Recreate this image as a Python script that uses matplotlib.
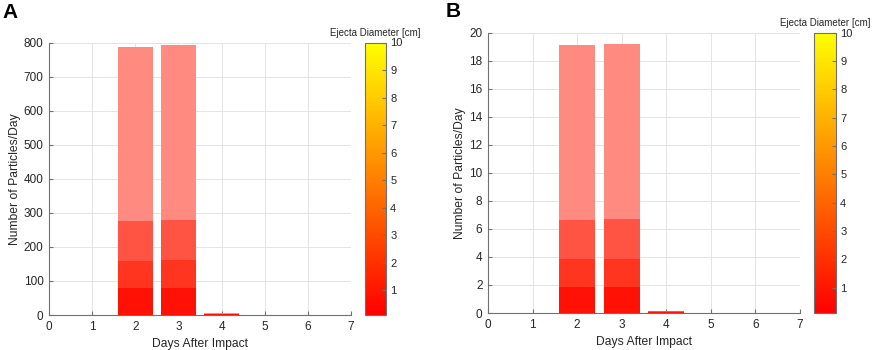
import matplotlib.pyplot as plt
import matplotlib as mpl
import numpy as np

plt.rcParams['font.family'] = ['Liberation Sans', 'DejaVu Sans']

days = [1, 2, 3, 4, 5, 6, 7]

# panel A - stacked counts per diameter bin (smallest first)
a_bin1 = [0, 78, 80, 2, 0, 0, 0]
a_bin2 = [0, 82, 82, 1, 0, 0, 0]
a_bin3 = [0, 116, 117, 1, 0, 0, 0]
a_bin4 = [0, 512, 514, 1, 0, 0, 0]

# panel B
b_bin1 = [0, 1.84, 1.86, 0.06, 0, 0, 0]
b_bin2 = [0, 2.0, 2.02, 0.03, 0, 0, 0]
b_bin3 = [0, 2.8, 2.83, 0.03, 0, 0, 0]
b_bin4 = [0, 12.46, 12.49, 0.03, 0, 0, 0]

bin_colors = ['#ff1205', '#ff3520', '#ff5444', '#ff8a80']

W, H = 872, 350
fig = plt.figure(figsize=(W / 100, H / 100), dpi=100)

def panel(ax_box, cb_box, bins, ymax, yticks, letter, letter_xy):
    ax = fig.add_axes(ax_box)
    bottom = np.zeros(len(days))
    for vals, c in zip(bins, bin_colors):
        ax.bar(days, vals, width=0.8, bottom=bottom, color=c, edgecolor='none', zorder=3)
        bottom = bottom + np.array(vals)
    ax.set_xlim(0, 7)
    ax.set_ylim(0, ymax)
    ax.set_xticks(range(8))
    ax.set_yticks(yticks)
    ax.grid(True, color='#e4e4e4', linewidth=0.7, zorder=0)
    for s in ['top', 'right']:
        ax.spines[s].set_visible(False)
    for s in ['left', 'bottom']:
        ax.spines[s].set_color('#707070')
        ax.spines[s].set_linewidth(0.8)
    ax.tick_params(direction='in', length=3, labelsize=8.5, colors='#707070',
                   labelcolor='#262626', pad=4)
    ax.set_xlabel('Days After Impact', fontsize=8.7, color='#262626', labelpad=4)
    ax.set_ylabel('Number of Particles/Day', fontsize=8.7, color='#262626', labelpad=2)

    cax = fig.add_axes(cb_box)
    norm = mpl.colors.Normalize(vmin=0.1, vmax=10)
    cb = fig.colorbar(mpl.cm.ScalarMappable(norm=norm, cmap='autumn'), cax=cax)
    cb.set_ticks(range(1, 11))
    cb.outline.set_edgecolor('#707070')
    cb.outline.set_linewidth(0.8)
    cax.tick_params(direction='in', length=3, labelsize=8, colors='#707070',
                    labelcolor='#262626', pad=3)
    cax.set_title('Ejecta Diameter [cm]', fontsize=7, color='#262626', pad=5)

    fig.text(letter_xy[0], letter_xy[1], letter, fontsize=15, fontweight='bold',
             ha='left', va='top')

panel([49 / W, 1 - 315 / H, 302 / W, 272.5 / H],
      [365 / W, 1 - 315 / H, 21 / W, 272.5 / H],
      [a_bin1, a_bin2, a_bin3, a_bin4], 800, range(0, 801, 100),
      'A', (2 / W, 1 - 3 / H))

panel([488 / W, 1 - 313 / H, 312 / W, 280.3 / H],
      [814 / W, 1 - 313 / H, 22 / W, 280.3 / H],
      [b_bin1, b_bin2, b_bin3, b_bin4], 20, range(0, 21, 2),
      'B', (446 / W, 1 - 2 / H))

fig.savefig('out.png', dpi=100)
